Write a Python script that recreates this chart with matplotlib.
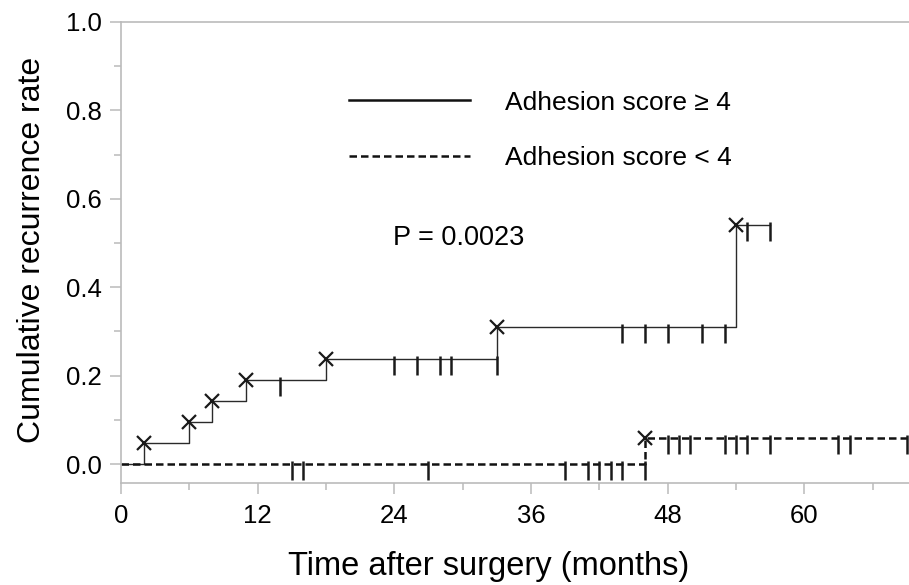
import numpy as np
import matplotlib
matplotlib.use('Agg')
from matplotlib import pyplot as plt
from matplotlib.lines import Line2D

plt.rcParams['font.family'] = ['Liberation Sans', 'DejaVu Sans']

# Adhesion score >= 4 : step curve
hi_t = [0, 2, 6, 8, 11, 18, 33, 54, 57]
hi_y = [0.0, 0.048, 0.095, 0.143, 0.190, 0.238, 0.310, 0.541, 0.541]
hi_event_t = [2, 6, 8, 11, 18, 33, 54]
hi_event_y = [0.048, 0.095, 0.143, 0.190, 0.238, 0.310, 0.541]
hi_cens_t = [14, 24, 26, 28, 29, 33, 44, 46, 48, 51, 53, 55, 57]
hi_cens_y = [0.190, 0.238, 0.238, 0.238, 0.238, 0.238, 0.310, 0.310, 0.310, 0.310, 0.310, 0.541, 0.541]

# Adhesion score < 4
lo_t = [0, 46, 69]
lo_y = [0.0, 0.060, 0.060]
lo_event_t = [46]
lo_event_y = [0.060]
lo_cens_t = [15, 16, 27, 39, 41, 42, 43, 44, 46, 48, 49, 50, 53, 54, 55, 57, 63, 64, 69]
lo_cens_y = [0.0] * 9 + [0.060] * 10

xticks = [0, 12, 24, 36, 48, 60]
yticks = [0.0, 0.2, 0.4, 0.6, 0.8, 1.0]

fig = plt.figure(figsize=(9.09, 5.85), dpi=100)
ax = fig.add_axes([0.1331, 0.1749, 0.8669, 0.7875])

ax.step(hi_t, hi_y, where='post', color='#2a2a2a', lw=1.0)
ax.step(lo_t, lo_y, where='post', color='#111111', lw=1.8, dashes=(3.0, 1.6))
ax.plot(hi_event_t, hi_event_y, 'x', color='#1a1a1a', ms=10, mew=1.6)
ax.plot(lo_event_t, lo_event_y, 'x', color='#1a1a1a', ms=10, mew=1.6)
ax.vlines(hi_cens_t, np.array(hi_cens_y) - 0.036, np.array(hi_cens_y) + 0.006, color='#1a1a1a', lw=1.8)
ax.vlines(lo_cens_t, np.array(lo_cens_y) - 0.036, np.array(lo_cens_y) + 0.006, color='#1a1a1a', lw=1.8)

ax.set_xlim(0, 69.2)
ax.set_ylim(-0.042, 1.0)
ax.set_xticks(xticks)
ax.set_xticks(np.arange(6, 70, 12), minor=True)
ax.set_yticks(yticks)
ax.set_yticklabels(['%.1f' % v for v in yticks])
ax.set_yticks(np.arange(0.1, 1.0, 0.2), minor=True)

for s in ['left', 'bottom', 'top']:
    ax.spines[s].set_color('#bbbbbb')
    ax.spines[s].set_linewidth(1.2)
ax.spines['right'].set_visible(False)
ax.tick_params(which='major', length=8, width=1.1, color='#bbbbbb', labelsize=18.5, pad=6)
ax.tick_params(axis='x', which='major', pad=7)
ax.tick_params(which='minor', length=5, width=1.1, color='#bbbbbb')

ax.set_xlabel('Time after surgery (months)', fontsize=23.5)
ax.xaxis.set_label_coords(0.466, -0.148)
ax.set_ylabel('Cumulative recurrence rate', fontsize=23)
ax.yaxis.set_label_coords(-0.094, 0.505)

handles = [Line2D([], [], color='#111111', lw=1.8),
           Line2D([], [], color='#111111', lw=1.8, dashes=(3.0, 1.6))]
ax.legend(handles, ['Adhesion score \u2265 4', 'Adhesion score < 4'], loc='upper left',
          bbox_to_anchor=(0.276, 0.874), frameon=False, fontsize=19,
          handlelength=4.6, handletextpad=1.3, labelspacing=1.2, borderaxespad=0)

ax.text(23.9, 0.512, 'P = 0.0023', fontsize=19.5, va='center', ha='left')

fig.savefig('out.png', dpi=100)
